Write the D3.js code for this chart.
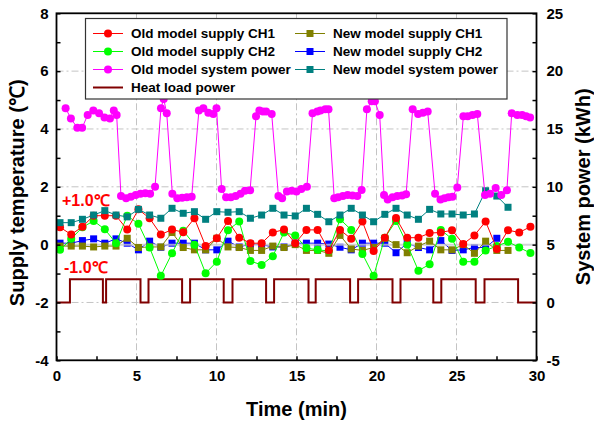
<!DOCTYPE html>
<html><head><meta charset="utf-8">
<script src="https://cdn.jsdelivr.net/npm/d3@7/dist/d3.min.js"></script>
<style>
html,body{margin:0;padding:0;background:#fff;}
svg{display:block;font-family:"Liberation Sans",Arial,sans-serif;font-weight:bold;}
</style></head>
<body><svg id="c" width="594" height="425"></svg>
<script>
// ---- data ----
const sampleTimes = [0.22,0.92,1.62,2.32,3.02,3.72,4.42,5.12,5.82,6.52,7.22,7.92,8.62,9.32,10.02,10.72,11.42,12.12,12.82,13.52,14.22,14.92,15.62,16.32,17.02,17.72,18.42,19.12,19.82,20.52,21.22,21.92,22.62,23.32,24.02,24.72,25.42,26.12,26.82,27.52,28.22,28.92,29.62];
const oldCH1 = [0.6,0.35,0.62,1.0,1.0,1.0,0.52,1.22,0.91,0.35,0.52,0.43,0.91,-0.05,0.22,0.82,0.24,0.05,0.05,0.42,0.52,0.05,0.51,0.51,-0.2,0.51,0.2,0.8,-0.22,0.24,0.92,0.24,0.24,0.4,0.42,0.5,0.02,0.32,0.8,-0.15,0.5,0.42,0.62];
const oldCH2 = [-0.18,0.2,0.6,0.82,0.53,0.05,1.0,0.72,-0.1,-1.08,-0.3,0.48,0.0,-0.99,-0.59,0.5,0.8,-0.57,-0.7,-0.4,0.42,0.32,-0.12,-0.18,-0.22,0.88,0.51,-0.32,-1.08,0.24,0.82,0.0,-0.9,-0.68,0.51,0.2,-0.59,-0.59,-0.2,-0.05,0.1,-0.1,-0.29];
const newCH1 = [-0.05,-0.05,-0.05,-0.08,-0.05,-0.05,0.22,-0.1,-0.08,-0.08,0.42,-0.1,-0.18,-0.18,0.22,-0.08,-0.1,-0.2,-0.2,-0.05,-0.1,0.0,-0.2,-0.2,-0.3,0.32,-0.15,-0.2,-0.1,0.22,0.0,-0.28,-0.05,0.12,-0.18,-0.18,0.0,-0.3,0.12,-0.2,-0.2];
const newCH2 = [0.05,0.05,0.14,0.2,0.05,0.2,0.05,-0.18,0.12,-0.09,0.05,0.05,0.05,-0.18,-0.18,0.12,-0.08,0.02,0.0,-0.08,-0.08,0.05,0.05,0.05,0.02,-0.09,-0.18,0.05,0.05,0.05,-0.28,0.05,-0.1,-0.18,0.14,-0.2,-0.18,-0.1,-0.1,0.22];
const newPower = [6.9,6.9,7.19,7.56,7.94,7.56,7.4,8.05,7.56,7.28,8.14,7.71,7.85,7.19,7.85,7.8,7.85,7.28,7.56,8.14,7.56,7.48,8.14,7.62,6.98,7.56,8.14,7.56,6.98,7.62,8.14,7.56,7.19,8.05,7.65,7.65,7.56,7.65,9.66,9.2,8.23];
const oldPowerTimes = [0.57,0.9,1.3,1.6,1.95,2.3,2.66,3.0,3.34,3.58,3.76,4.03,4.35,4.65,4.95,5.25,5.55,5.85,6.16,6.53,6.7,6.89,7.24,7.55,7.85,8.15,8.45,8.9,9.18,9.49,9.8,10.0,10.32,10.6,10.9,11.2,11.5,11.78,12.1,12.47,12.68,12.9,13.1,13.45,13.87,14.1,14.4,14.7,15.0,15.3,15.65,16.0,16.3,16.5,16.8,17.0,17.36,17.6,17.9,18.2,18.5,18.8,19.07,19.4,19.7,19.9,20.2,20.47,20.7,21.0,21.3,21.6,21.85,22.26,22.6,22.9,23.2,23.66,24.0,24.25,24.5,24.75,25.05,25.43,25.7,26.0,26.3,26.78,27.1,27.45,27.8,28.15,28.45,28.8,29.1,29.35,29.6];
const oldPower = [16.8,15.9,15.1,15.1,16.2,16.6,16.35,16.0,15.9,16.6,16.2,
 9.2,9.0,9.15,9.3,9.4,9.45,9.4,10.0,
 16.8,17.6,16.35,
 9.4,9.0,9.05,9.1,9.15,
 16.6,16.8,16.4,16.3,16.8,
 9.8,9.1,9.1,9.2,9.4,9.66,9.7,
 16.1,16.6,16.5,16.5,16.3,
 9.2,9.0,9.6,9.65,9.6,9.8,10.0,
 16.35,16.5,16.6,16.7,16.7,
 9.0,9.1,9.2,9.3,9.25,9.2,9.72,
 16.7,17.4,17.4,16.2,
 9.3,8.9,9.1,9.2,9.25,9.35,
 16.7,16.3,16.4,16.5,
 9.4,8.9,9.0,9.1,9.15,9.95,
 16.1,16.1,16.2,16.3,
 9.3,9.4,9.9,9.3,9.7,
 16.35,16.2,16.2,16.1,16.0];
const heatTimes = [0,0.84,2.9,3.1,5.25,5.75,7.85,8.35,10.45,11.0,13.1,13.6,15.75,16.2,18.35,18.85,21.0,21.5,23.55,24.05,26.2,26.75,28.85,30];
const heatLoad  = [0,2,0,2,0,2,0,2,0,2,0,2,0,2,0,2,0,2,0,2,0,2,0,0];
const xTicks = [0,5,10,15,20,25,30];
const yLeftTicks = [-4,-2,0,2,4,6,8];
const yRightTicks = [-5,0,5,10,15,20,25];
const legendLabels = ["Old model supply CH1","Old model supply CH2","Old model system power","Heat load power","New model supply CH1","New model supply CH2","New model system power"];

// ---- layout ----
const L=56.5, R=536.5, T=13.3, B=360.3;
const svg = d3.select("#c");
const x = d3.scaleLinear().domain([0,30]).range([L,R]);
const yL = d3.scaleLinear().domain([-4,8]).range([B,T]);
const yR = d3.scaleLinear().domain([-5,25]).range([B,T]);

// grid
const grid = svg.append("g").attr("stroke","#c4c4c4").attr("stroke-width",1).attr("stroke-dasharray","7,3,2,3");
[5,10,15,20,25].forEach(v=>grid.append("line").attr("x1",x(v)).attr("x2",x(v)).attr("y1",T).attr("y2",B));
[-2,2,4,6].forEach(v=>grid.append("line").attr("x1",L).attr("x2",R).attr("y1",yL(v)).attr("y2",yL(v)));

function zip(ts, vs){ return vs.map((v,i)=>[ts[i],v]); }
function drawSeries(data, yScale, color, marker, opts={}){
  const g = svg.append("g");
  const line = d3.line().x(d=>x(d[0])).y(d=>yScale(d[1]));
  if(opts.curve) line.curve(opts.curve);
  g.append("path").datum(data).attr("d",line).attr("fill","none").attr("stroke",color).attr("stroke-width",opts.sw||1);
  if(marker==="circle"){
    g.selectAll("circle").data(data).join("circle").attr("cx",d=>x(d[0])).attr("cy",d=>yScale(d[1])).attr("r",opts.r||4).attr("fill",color);
  } else if(marker==="square"){
    const s=opts.s||7;
    g.selectAll("rect").data(data).join("rect").attr("x",d=>x(d[0])-s/2).attr("y",d=>yScale(d[1])-s/2).attr("width",s).attr("height",s).attr("fill",color);
  }
  return g;
}

// heat load
drawSeries(zip(heatTimes,heatLoad), yR, "#800000", null, {curve:d3.curveStepAfter, sw:2});
// new model CH2 (blue)
drawSeries(zip(sampleTimes,newCH2), yL, "#0000ff", "square");
// zero reference
svg.append("line").attr("x1",L).attr("x2",R).attr("y1",yL(0)).attr("y2",yL(0)).attr("stroke","#c8c8cc").attr("stroke-width",2).attr("opacity",0.8);
drawSeries(zip(sampleTimes,newCH1), yL, "#808000", "square");
drawSeries(zip(sampleTimes,oldCH2), yL, "#00ff00", "circle");
drawSeries(zip(sampleTimes,oldCH1), yL, "#ff0000", "circle");
drawSeries(zip(sampleTimes,newPower), yR, "#008080", "square");
drawSeries(zip(oldPowerTimes,oldPower), yR, "#ff00ff", "circle");

// axes
const ax = svg.append("g").attr("font-size",15).attr("font-family","'Liberation Sans',Arial,sans-serif").attr("font-weight","bold");
const bottom = ax.append("g").attr("transform",`translate(0,${B})`)
  .call(d3.axisBottom(x).tickValues(d3.range(0,30.01,2.5)).tickSize(-4).tickPadding(10).tickFormat(d=>xTicks.includes(d)?d:""));
const left = ax.append("g").attr("transform",`translate(${L},0)`)
  .call(d3.axisLeft(yL).tickValues(d3.range(-4,8.01,1)).tickSize(-4).tickPadding(8).tickFormat(d=>yLeftTicks.includes(d)?d:""));
const right = ax.append("g").attr("transform",`translate(${R},0)`)
  .call(d3.axisRight(yR).tickValues(d3.range(-5,25.01,2.5)).tickSize(-4).tickPadding(10).tickFormat(d=>yRightTicks.includes(d)?d:""));
[bottom,left,right].forEach(g=>{g.select(".domain").remove(); g.selectAll("line").attr("stroke","#000").attr("stroke-width",1.5); g.selectAll("text").attr("fill","#000").attr("font-size",15).attr("font-weight","bold");});
svg.append("rect").attr("x",L).attr("y",T).attr("width",R-L).attr("height",B-T).attr("fill","none").attr("stroke","#000").attr("stroke-width",1.8);

// titles
svg.append("text").attr("x",(L+R)/2).attr("y",416).attr("text-anchor","middle").attr("font-size",20).text("Time (min)");
svg.append("text").attr("transform",`translate(24,${(T+B)/2+6}) rotate(-90)`).attr("text-anchor","middle").attr("font-size",20).text("Supply temperature (℃)");
svg.append("text").attr("transform",`translate(590,${(T+B)/2}) rotate(-90)`).attr("text-anchor","middle").attr("font-size",20).text("System power (kWh)");

// annotations
svg.append("text").attr("x",62).attr("y",206).attr("fill","#ff0000").attr("font-size",16).text("+1.0℃");
svg.append("text").attr("x",64).attr("y",272.5).attr("fill","#ff0000").attr("font-size",16).text("-1.0℃");

// legend
const lg = svg.append("g");
lg.append("rect").attr("x",85.5).attr("y",18.5).attr("width",421.5).attr("height",80.5).attr("fill","#fff").attr("stroke","#333").attr("stroke-width",1.2);
const legItems = [
  {label:legendLabels[0], color:"#ff0000", m:"circle", col:0,row:0},
  {label:legendLabels[1], color:"#00ff00", m:"circle", col:0,row:1},
  {label:legendLabels[2], color:"#ff00ff", m:"circle", col:0,row:2},
  {label:legendLabels[3], color:"#800000", m:null, col:0,row:3, sw:2},
  {label:legendLabels[4], color:"#808000", m:"square", col:1,row:0},
  {label:legendLabels[5], color:"#0000ff", m:"square", col:1,row:1},
  {label:legendLabels[6], color:"#008080", m:"square", col:1,row:2}
];
const rowsY=[33.5,51.5,69.5,87.5];
legItems.forEach(it=>{
  const x0 = it.col===0?93:295, x1 = x0+30, cy = rowsY[it.row];
  lg.append("line").attr("x1",x0).attr("x2",x1).attr("y1",cy).attr("y2",cy).attr("stroke",it.color).attr("stroke-width",it.sw||1);
  if(it.m==="circle") lg.append("circle").attr("cx",(x0+x1)/2).attr("cy",cy).attr("r",4).attr("fill",it.color);
  if(it.m==="square") lg.append("rect").attr("x",(x0+x1)/2-3.5).attr("y",cy-3.5).attr("width",7).attr("height",7).attr("fill",it.color);
  lg.append("text").attr("x",x1+8).attr("y",cy+4.8).attr("font-size",13.5).attr("fill","#000").text(it.label);
});
</script></body></html>
